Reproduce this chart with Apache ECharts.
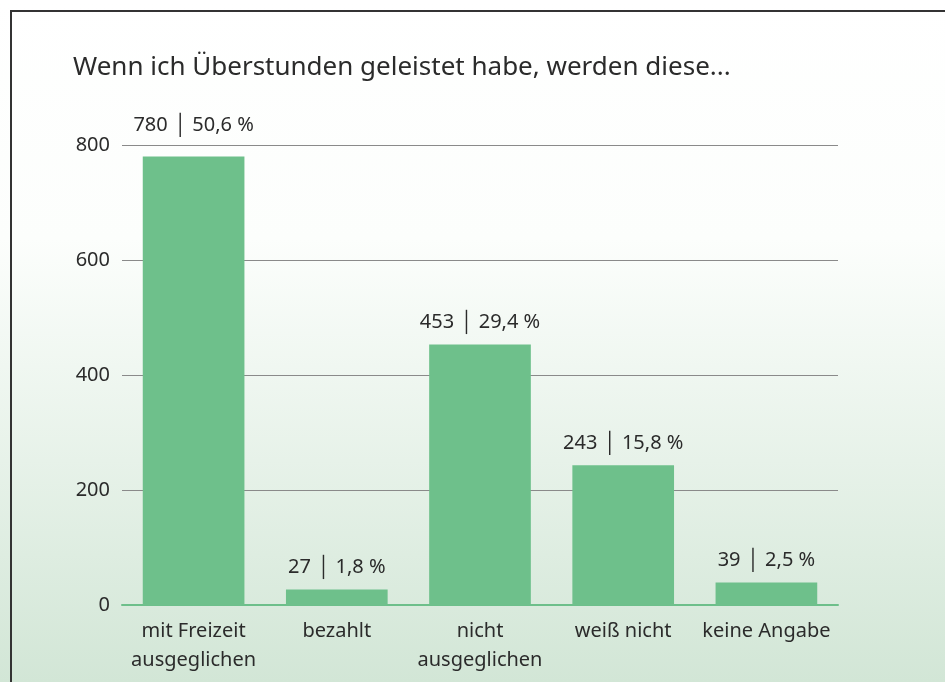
<!DOCTYPE html>
<html>
<head>
<meta charset="utf-8">
<script src="https://cdn.jsdelivr.net/npm/echarts@6/dist/echarts.min.js"></script>
<style>
  html, body { margin: 0; padding: 0; background: #fff; }
  #frame {
    position: absolute; left: 10px; top: 10px; width: 935px; height: 672px;
    border-top: 2px solid #333; border-left: 2px solid #333; box-sizing: border-box;
  }
  #main { position: absolute; left: 0; top: 0; width: 945px; height: 682px; }
</style>
</head>
<body>
<div id="main"></div>
<div id="frame"></div>
<script>
var kategorien = ['mit Freizeit\nausgeglichen', 'bezahlt', 'nicht\nausgeglichen', 'weiß nicht', 'keine Angabe'];
var anzahl = [780, 27, 453, 243, 39];
var prozent = ['50,6', '1,8', '29,4', '15,8', '2,5'];

var myChart = echarts.init(document.getElementById('main'));
// the first label sits above the 800 gridline
var balken = anzahl.map(function (v, i) {
    return i === 0 ? { value: v, label: { distance: 21 } } : v;
});
var option = {
    backgroundColor: {
        type: 'linear', x: 0, y: 0, x2: 0, y2: 1,
        colorStops: [
            { offset: 0, color: '#ffffff' },
            { offset: 0.35, color: '#fcfefc' },
            { offset: 1, color: '#d2e6d6' }
        ]
    },
    textStyle: { fontFamily: 'Noto Sans' },
    title: {
        text: 'Wenn ich Überstunden geleistet habe, werden diese...',
        left: 68, top: 50,
        textStyle: { fontSize: 26, fontWeight: 'normal', color: '#2b2b2b', fontFamily: 'Noto Sans' }
    },
    grid: { left: 122, right: 107, top: 145, bottom: 77 },
    xAxis: {
        type: 'category',
        data: kategorien,
        axisLine: { lineStyle: { color: '#6dbf8a', width: 2 } },
        axisTick: { show: false },
        axisLabel: { interval: 0, fontSize: 20, color: '#2b2b2b', margin: 12, lineHeight: 29 }
    },
    yAxis: {
        type: 'value',
        min: 0, max: 800, interval: 200,
        axisLine: { show: false },
        axisTick: { show: false },
        axisLabel: { fontSize: 20, color: '#2b2b2b', margin: 12 },
        splitLine: { lineStyle: { color: '#8a8a8a', width: 1 } }
    },
    series: [
        {
            name: 'Anzahl',
            type: 'bar',
            data: balken,
            barWidth: '71%',
            itemStyle: { color: '#6ec08b' },
            label: {
                show: true,
                position: 'top',
                distance: 12,
                fontSize: 20,
                color: '#2b2b2b',
                formatter: function (p) { return p.value + ' │ ' + prozent[p.dataIndex] + ' %'; }
            }
        }
    ]
};
myChart.setOption(option);
</script>
</body>
</html>
